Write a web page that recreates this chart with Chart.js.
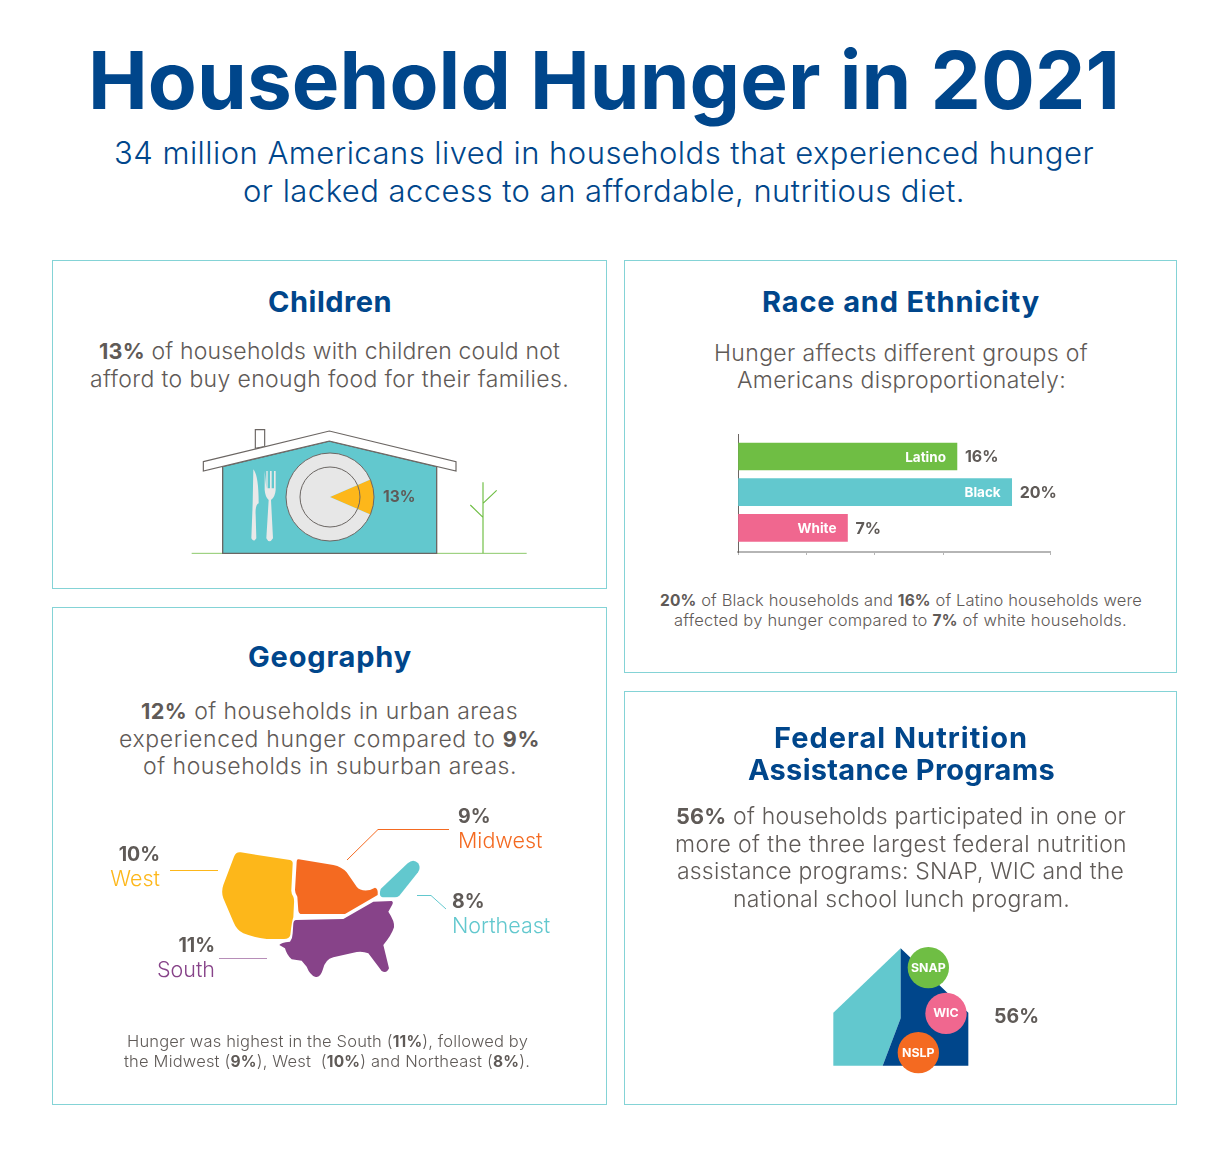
<!DOCTYPE html>
<html>
<head>
<meta charset="utf-8">
<title>Household Hunger in 2021</title>
<script src="https://cdn.jsdelivr.net/npm/chart.js@4"></script>
<style>
  html, body { margin: 0; padding: 0; background: #fff; }
  #page { position: relative; width: 1230px; height: 1168px; overflow: hidden; font-family: Inter, sans-serif; color: #5f5a57; }
  .panel { position: absolute; box-sizing: border-box; border: 1.5px solid #84d3d6; }
  .t { position: absolute; white-space: pre; line-height: 1; }
  .navy { color: #00468b; }
  .h { color: #00468b; font-weight: 700; font-size: 29px; }
  .body { font-size: 23px; font-weight: 300; }
  .small { font-size: 16.5px; font-weight: 300; }
  .t b { font-weight: 700; font-size: .94em; }
  svg, canvas { position: absolute; }
</style>
</head>
<body>
<div id="page">
  <div class="t navy" data-w="1032" style="left:88px;top:40px;font-size:80px;font-weight:700">Household Hunger in 2021</div>
  <div class="t navy" data-w="980" style="left:114px;top:137px;font-size:31px;font-weight:300">34 million Americans lived in households that experienced hunger</div>
  <div class="t navy" data-w="722" style="left:243px;top:175px;font-size:31px;font-weight:300">or lacked access to an affordable, nutritious diet.</div>

  <div class="panel" style="left:52px;top:260px;width:555px;height:329px"></div>
  <div class="panel" style="left:624px;top:260px;width:553px;height:413px"></div>
  <div class="panel" style="left:52px;top:607px;width:555px;height:498px"></div>
  <div class="panel" style="left:624px;top:691px;width:553px;height:414px"></div>

  <!-- Children -->
  <div class="t h" data-w="124" style="left:268px;top:287px">Children</div>
  <div class="t body" data-w="461" style="left:99px;top:340px"><b>13%</b> of households with children could not</div>
  <div class="t body" data-w="479" style="left:90px;top:368px">afford to buy enough food for their families.</div>
  <svg style="left:180px;top:420px" width="360" height="145" viewBox="0 0 1080 435">
    <path d="M35 400H1040" stroke="#8cc96a" stroke-width="3"/>
    <path d="M909 400V187M909 292L871 255M909 250L950 211" fill="none" stroke="#6fbe44" stroke-width="3.5"/>
    <path d="M226 85V29H254V80Z" fill="#fff" stroke="#6b6663" stroke-width="3.5"/>
    <path d="M128 400V140L448 63L770 140V400Z" fill="#62c8ce" stroke="#6b6663" stroke-width="4"/>
    <path d="M70 125L448 33L828 125V153L448 63L70 153Z" fill="#fff" stroke="#6b6663" stroke-width="3.5"/>
    <path d="M220 148Q236 165 236 250Q225 255 227 285L229 355Q222 368 214 355L218 250Z" fill="#e9e9e9"/>
    <path d="M254 153V210Q256 232 266 240L259 355Q268 373 279 355L273 240Q285 232 287 210V153H282V205H275V153H270V205H263V153H259V205Z" fill="#e9e9e9"/>
  </svg>
  <canvas id="plateChart" width="150" height="100" style="left:280px;top:447px;width:150px;height:100px"></canvas>

  <!-- Race and Ethnicity -->
  <div class="t h" data-w="278" style="left:762px;top:287px">Race and Ethnicity</div>
  <div class="t body" data-w="374" style="left:714px;top:342px">Hunger affects different groups of</div>
  <div class="t body" data-w="329" style="left:737px;top:369px">Americans disproportionately:</div>
  <canvas id="raceChart" width="350" height="140" style="left:720px;top:425px;width:350px;height:140px"></canvas>
  <div class="t small" data-w="482" style="left:660px;top:592px"><b>20%</b> of Black households and <b>16%</b> of Latino households were</div>
  <div class="t small" data-w="453" style="left:674px;top:612px">affected by hunger compared to <b>7%</b> of white households.</div>

  <!-- Geography -->
  <div class="t h" data-w="164" style="left:248px;top:642px">Geography</div>
  <div class="t body" data-w="377" style="left:141px;top:700px"><b>12%</b> of households in urban areas</div>
  <div class="t body" data-w="421" style="left:119px;top:728px">experienced hunger compared to <b>9%</b></div>
  <div class="t body" data-w="374" style="left:143px;top:755px">of households in suburban areas.</div>
  <svg style="left:210px;top:840px" width="220" height="145" viewBox="0 0 660 435">
    <path d="M92 37L240 60Q249 62 248 72L244 150Q243 160 250 170Q253 178 252 190L250 232Q246 240 241 285Q238 297 222 297L170 297Q130 292 100 280Q80 270 70 245L40 175Q33 155 40 135L72 50Q78 35 92 37Z" fill="#fdb71a"/>
    <path d="M266 58L370 75Q395 80 410 97L440 140Q452 155 480 150L495 143Q505 145 503 165L405 222L275 222Q267 222 265 212L262 170Q255 160 255 150L260 65Q260 57 266 58Z" fill="#f46a21"/>
    <path d="M258 240L400 237L490 185L545 183Q552 187 545 197L535 215Q555 245 552 262Q545 285 520 315L537 385Q530 402 515 393Q490 360 475 340Q455 332 430 338L370 352Q345 358 338 390Q330 415 315 410Q300 405 290 380L275 362L245 358Q230 345 225 325L208 315Q212 308 240 305Q248 295 248 280L250 250Q252 240 258 240Z" fill="#874389"/>
    <path d="M512 147L593 70Q610 55 625 70Q633 85 624 97L568 167Q562 172 555 172L518 172Q508 170 510 155Z" fill="#62c8ce"/>
  </svg>
  <svg style="left:0;top:0" width="1230" height="1168">
    <path d="M170 870.5H218" stroke="#fdb71a" stroke-width="1"/>
    <path d="M347 860L378 829.5H449" fill="none" stroke="#f46a21" stroke-width="1"/>
    <path d="M417 895.5H431L446 909" fill="none" stroke="#62c8ce" stroke-width="1"/>
    <path d="M219 958.5H267" stroke="#874389" stroke-opacity=".6" stroke-width="1"/>
  </svg>
  <div id="regionLabels"></div>
  <div class="t small" data-w="401" style="left:127px;top:1033px">Hunger was highest in the South (<b>11%</b>), followed by</div>
  <div class="t small" data-w="406" style="left:124px;top:1053px">the Midwest (<b>9%</b>), West  (<b>10%</b>) and Northeast (<b>8%</b>).</div>

  <!-- Federal Nutrition Assistance Programs -->
  <div class="t h" data-w="254" style="left:774px;top:723px">Federal Nutrition</div>
  <div class="t h" data-w="307" style="left:748px;top:755px">Assistance Programs</div>
  <div class="t body" data-w="450" style="left:676px;top:805px"><b>56%</b> of households participated in one or</div>
  <div class="t body" data-w="452" style="left:675px;top:833px">more of the three largest federal nutrition</div>
  <div class="t body" data-w="447" style="left:677px;top:860px">assistance programs: SNAP, WIC and the</div>
  <div class="t body" data-w="337" style="left:733px;top:888px">national school lunch program.</div>
  <svg style="left:820px;top:940px" width="230" height="140" viewBox="0 0 690 420">
    <path d="M40 218L242 25V235L188 377H40Z" fill="#62c8ce"/>
    <path d="M242 25L445 218V377H188L242 235Z" fill="#00468b"/>
    <circle cx="325" cy="83" r="62" fill="#6fbe44"/>
    <circle cx="378" cy="220" r="62" fill="#f0678f"/>
    <circle cx="295" cy="338" r="62" fill="#f46a21"/>
    <g id="programLabels" fill="#fff" font-family="Inter" font-weight="700" font-size="37" text-anchor="middle"></g>
  </svg>
  <div id="programShare" class="t" style="left:994px;top:1007px;font-size:19.5px;font-weight:700"></div>
</div>

<script>
// Children: share of households with children
const plateLabels = ['Could not afford enough food', 'Other households'];
const plateValues = [13, 87];

// Race and ethnicity. Bar lengths as drawn in the picture, White reads 8 on the axis but is labelled 7%
const raceGroups = ['Latino', 'Black', 'White'];
const raceBars = [16, 20, 8];
const raceValueLabels = ['16%', '20%', '7%'];
const raceColors = ['#6fbe44', '#62c8ce', '#f0678f'];

// Geography
const regionNames = ['West', 'Midwest', 'Northeast', 'South'];
const regionValues = [10, 9, 8, 11];
const regionColors = ['#fdb71a', '#f46a21', '#62c8ce', '#874389'];

// Federal programs
const programNames = ['SNAP', 'WIC', 'NSLP'];
const programShare = 56;

const gray = '#5f5a57';

// Region labels, right aligned ones sit left of the map
const regionBoxes = {
  West: { right: 1070, top: 845 },
  Midwest: { left: 458, top: 807 },
  Northeast: { left: 452, top: 892 },
  South: { right: 1015, top: 936 }
};
regionNames.forEach((name, i) => {
  const box = regionBoxes[name];
  const side = box.left ? `left:${box.left}px` : `right:${box.right}px`;
  document.getElementById('regionLabels').insertAdjacentHTML('beforeend', `
    <div class="t" style="${side};top:${box.top}px;font-size:19.5px;font-weight:700">${regionValues[i]}%</div>
    <div class="t" style="${side};top:${box.top + 23}px;font-size:21.5px;font-weight:300;color:${regionColors[i]}">${name}</div>`);
});

// Program names on the circles
const programCenters = [[325, 96], [378, 232], [295, 351]];
programNames.forEach((name, i) => {
  const el = document.createElementNS('http://www.w3.org/2000/svg', 'text');
  el.setAttribute('x', programCenters[i][0]);
  el.setAttribute('y', programCenters[i][1]);
  el.textContent = name;
  document.getElementById('programLabels').appendChild(el);
});
document.getElementById('programShare').textContent = programShare + '%';

// Stretch each text line to the width it has in the reference
function fitLines() {
  document.querySelectorAll('.t[data-w]').forEach(el => {
    const target = Number(el.dataset.w);
    const natural = el.getBoundingClientRect().width;
    el.style.letterSpacing = ((target - natural) / el.textContent.length) + 'px';
  });
}
fitLines();

Chart.defaults.animation = false;
Chart.defaults.responsive = false;
Chart.defaults.plugins.legend.display = false;
Chart.defaults.plugins.tooltip.enabled = false;

// Plate rings and the 13% label
const platePlugin = {
  id: 'plateRings',
  afterDatasetsDraw(chart) {
    const arc = chart.getDatasetMeta(0).data[0];
    const ctx = chart.ctx;
    ctx.save();
    ctx.strokeStyle = '#6b6663';
    ctx.lineWidth = 1;
    [44, 30].forEach(r => {
      ctx.beginPath();
      ctx.arc(arc.x, arc.y, r, 0, Math.PI * 2);
      ctx.stroke();
    });
    ctx.fillStyle = gray;
    ctx.font = '700 15.5px Inter';
    ctx.textBaseline = 'middle';
    ctx.fillText(plateValues[0] + '%', arc.x + 53, arc.y);
    ctx.restore();
  }
};

new Chart(document.getElementById('plateChart'), {
  type: 'pie',
  data: {
    labels: plateLabels,
    datasets: [{
      data: plateValues,
      backgroundColor: ['#fdb71a', '#e7e7e7'],
      borderWidth: 0
    }]
  },
  options: {
    radius: 44,
    rotation: 90 - plateValues[0] * 1.8,
    layout: { padding: { right: 50 } }
  },
  plugins: [platePlugin]
});

// Group name inside each bar, percentage after it
const barLabelPlugin = {
  id: 'barLabels',
  afterDatasetsDraw(chart) {
    const ctx = chart.ctx;
    ctx.save();
    ctx.textBaseline = 'middle';
    chart.getDatasetMeta(0).data.forEach((bar, i) => {
      ctx.fillStyle = '#fff';
      ctx.textAlign = 'right';
      ctx.font = '700 13.5px Inter';
      ctx.fillText(raceGroups[i], bar.x - 11, bar.y + 1);
      ctx.fillStyle = gray;
      ctx.textAlign = 'left';
      ctx.font = '700 16px Inter';
      ctx.fillText(raceValueLabels[i], bar.x + 8, bar.y + 1);
    });
    ctx.restore();
  }
};

new Chart(document.getElementById('raceChart'), {
  type: 'bar',
  data: {
    datasets: [{
      data: raceBars.map((v, i) => ({ x: v, y: i })),
      backgroundColor: raceColors,
      barThickness: 27
    }]
  },
  options: {
    indexAxis: 'y',
    layout: { padding: { left: 18, top: 9, right: 20, bottom: 10 } },
    scales: {
      x: {
        type: 'linear',
        min: 0,
        max: 22.8,
        ticks: { display: false, stepSize: 5 },
        grid: { drawOnChartArea: false, tickLength: 3, color: '#b5b5b5' },
        border: { color: '#b5b5b5', width: 2 },
        afterFit: s => { s.height = 3; }
      },
      y: {
        type: 'linear',
        reverse: true,
        offset: false,
        min: -0.631,
        max: 2.677,
        ticks: { display: false },
        grid: { display: false, offset: false },
        border: { color: '#6b6663', width: 1 },
        afterFit: s => { s.width = 0; }
      }
    }
  },
  plugins: [barLabelPlugin]
});
</script>
</body>
</html>
